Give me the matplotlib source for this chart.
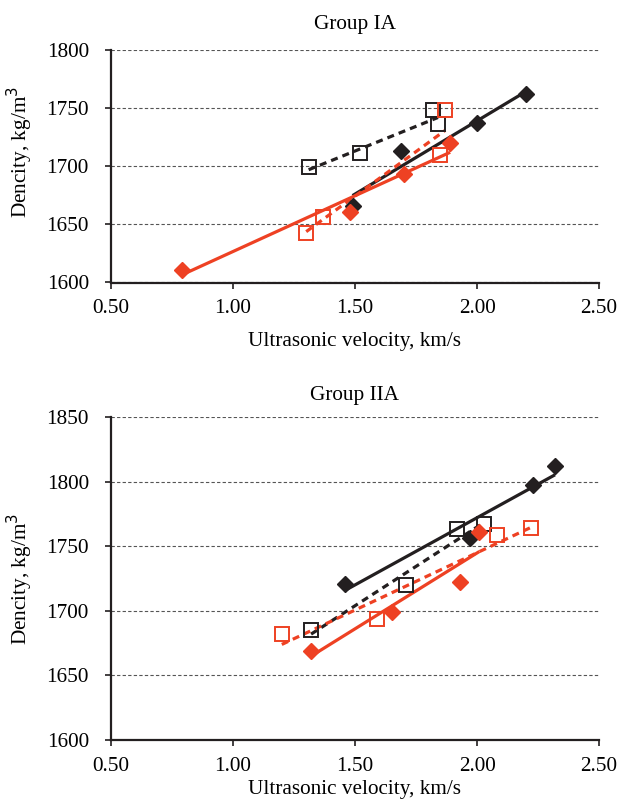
import numpy as np
import matplotlib
matplotlib.use("Agg")
import matplotlib.pyplot as plt

plt.rcParams['font.family'] = ['Liberation Serif', 'DejaVu Serif']

# Group IA
ia_blk_d_x = [1.49, 1.69, 2.00, 2.20]
ia_blk_d_y = [1666, 1713, 1737, 1762]
ia_blk_s_x = [1.31, 1.52, 1.82, 1.84]
ia_blk_s_y = [1699, 1711, 1748, 1736]
ia_red_d_x = [0.79, 1.48, 1.70, 1.89]
ia_red_d_y = [1611, 1661, 1693, 1720]
ia_red_s_x = [1.30, 1.37, 1.85, 1.87]
ia_red_s_y = [1643, 1656, 1710, 1748]

# Group IIA
iia_blk_d_x = [1.46, 1.97, 2.23, 2.32]
iia_blk_d_y = [1721, 1756, 1797, 1812]
iia_blk_s_x = [1.32, 1.71, 1.92, 2.03]
iia_blk_s_y = [1685, 1720, 1763, 1767]
iia_red_d_x = [1.32, 1.65, 1.93, 2.01]
iia_red_d_y = [1669, 1699, 1722, 1761]
iia_red_s_x = [1.20, 1.59, 2.08, 2.22]
iia_red_s_y = [1682, 1694, 1759, 1764]

x_ticks = [0.5, 1.0, 1.5, 2.0, 2.5]
ia_yticks = [1600, 1650, 1700, 1750, 1800]
iia_yticks = [1600, 1650, 1700, 1750, 1800, 1850]

BLACK = '#231f20'
RED = '#ee4123'
FS = 15.3


def series(ax, x, y, color, marker, ls):
    x = np.array(x)
    y = np.array(y)
    k, b = np.polyfit(x, y, 1)
    xx = np.array([x.min(), x.max()])
    if ls == '-':
        ax.plot(xx, k * xx + b, color=color, lw=2.3, solid_capstyle='butt', zorder=3)
    else:
        ax.plot(xx, k * xx + b, color=color, lw=2.3, ls=(0, (2.2, 1.6)), zorder=3)
    if marker == 'D':
        ax.plot(x, y, 'D', ms=8.5, color=color, mec=color, zorder=4)
    else:
        ax.plot(x, y, 's', ms=10, mfc='none', mec=color, mew=1.4, zorder=4)


def style(ax, title, yticks, tpad, xpad, ylab_y):
    ax.set_xlim(0.5, 2.5)
    ax.set_ylim(yticks[0], yticks[-1])
    ax.set_xticks(x_ticks)
    ax.set_xticklabels(['%.2f' % v for v in x_ticks])
    ax.set_yticks(yticks)
    ax.set_yticklabels([str(v) for v in yticks])
    ax.tick_params(axis='both', labelsize=FS, length=4, width=1.2, color=BLACK, direction='out')
    ax.tick_params(axis='x', pad=8)
    ax.tick_params(axis='y', pad=12)
    ax.grid(axis='y', color='#555555', lw=0.8, ls=(0, (3, 2)))
    ax.set_axisbelow(True)
    for s in ['top', 'right']:
        ax.spines[s].set_visible(False)
    for s in ['left', 'bottom']:
        ax.spines[s].set_linewidth(1.6)
        ax.spines[s].set_color(BLACK)
    ax.set_title(title, fontsize=FS, pad=tpad)
    ax.set_xlabel('Ultrasonic velocity, km/s', fontsize=FS, labelpad=xpad)
    ax.set_ylabel('Dencity, kg/m$^3$', fontsize=FS)
    ax.yaxis.set_label_coords(-0.155, ylab_y)


fig = plt.figure(figsize=(6.24, 8.01), dpi=100)
ax1 = fig.add_axes([111 / 624, 1 - 282.5 / 801, 488 / 624, 232.5 / 801])
ax2 = fig.add_axes([111 / 624, 1 - 740 / 801, 488 / 624, 323 / 801])

series(ax1, ia_blk_d_x, ia_blk_d_y, BLACK, 'D', '-')
series(ax1, ia_blk_s_x, ia_blk_s_y, BLACK, 's', '--')
series(ax1, ia_red_d_x, ia_red_d_y, RED, 'D', '-')
series(ax1, ia_red_s_x, ia_red_s_y, RED, 's', '--')
style(ax1, 'Group IA', ia_yticks, 15, 10, 0.56)

series(ax2, iia_blk_d_x, iia_blk_d_y, BLACK, 'D', '-')
series(ax2, iia_blk_s_x, iia_blk_s_y, BLACK, 's', '--')
series(ax2, iia_red_d_x, iia_red_d_y, RED, 'D', '-')
series(ax2, iia_red_s_x, iia_red_s_y, RED, 's', '--')
style(ax2, 'Group IIA', iia_yticks, 12, 3, 0.5)

fig.savefig('out.png', dpi=100)
